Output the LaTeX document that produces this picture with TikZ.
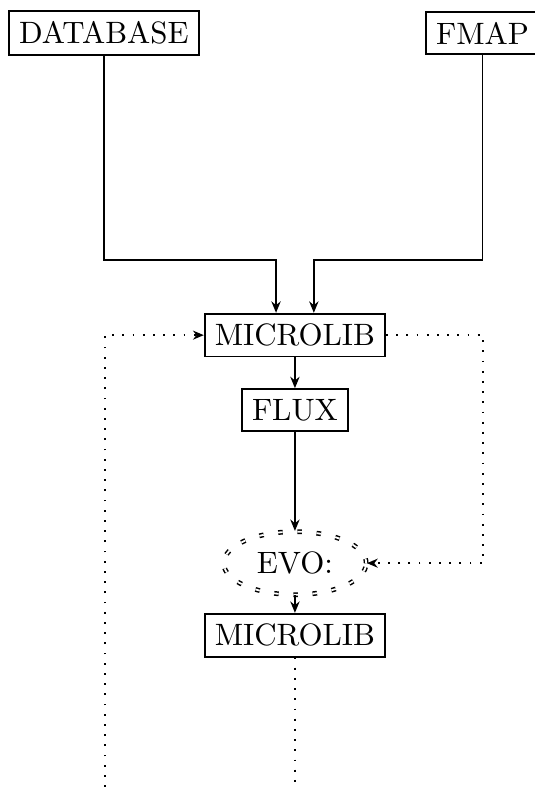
\documentclass[tikz,border=0pt]{standalone}
\usepackage{tikz}
\usetikzlibrary{
  shapes.geometric,
  arrows.meta,
  positioning,
  calc
}
\definecolor{linecolor}{RGB}{0, 0, 0}
\tikzset{
filebox/.style={
  draw=linecolor,
  line width=0.6pt,
  inner sep=3.4pt,
  font=\fontsize{10.3pt}{12pt}\selectfont
},
evonode/.style={
  ellipse,
  draw=linecolor,
  double,
  double distance=0.6pt,
  line width=0.5pt,
  dash pattern=on 1.5pt off 4.9pt,
  minimum width=47.5pt,
  minimum height=21pt,
  font=\fontsize{10.3pt}{12pt}\selectfont
},
arrow/.style={
  -{Stealth[length=3.8pt,width=3.1pt]},
  line width=0.6pt,
  draw=linecolor
},
loopline/.style={
  line width=0.75pt,
  draw=linecolor,
  dash pattern=on 0.6pt off 2.8pt
},
looparrow/.style={
  loopline,
  -{Stealth[length=3.6pt,width=3pt]}
}
}
\begin{document}
\begin{tikzpicture}
  \useasboundingbox (0,0) rectangle (178.3pt,-262.3pt);
  \node[filebox] (database) at (34.6pt,-11pt) {DATABASE};
  \node[filebox] (fmap) at (160.8pt,-11pt) {FMAP};
  \node[filebox] (microlib) at (98.3pt,-111.7pt) {MICROLIB};
  \node[filebox] (flux) at (98.3pt,-136.7pt) {FLUX};
  \node[evonode] (evo) at (98.3pt,-187.7pt) {EVO:};
  \node[filebox] (microlibout) at (98.3pt,-211.7pt) {MICROLIB};
  % inputs
  \coordinate (dbin) at ($(microlib.north)+(-6.3pt,0)$);
  \coordinate (fmapin) at ($(microlib.north)+(6.3pt,0)$);
  \coordinate (dbturn) at ($(database.south |- 0,-86.7pt)$);
  \coordinate (fmapturn) at ($(fmap.south |- 0,-86.7pt)$);
  \draw[arrow] (database.south) -- (dbturn) -| (dbin);
  \draw[arrow] (fmap.south) -- (fmapturn) -| (fmapin);
  % main chain
  \draw[arrow] (microlib) -- (flux);
  \draw[arrow] (flux) -- (evo);
  \draw[arrow] (evo) -- (microlibout);
  % loops
  \coordinate (leftend) at (35pt,-262.3pt);
  \coordinate (rightcol) at (161pt,-150pt);
  \coordinate (bottomend) at ($(microlibout.south |- 0,-262.3pt)$);
  \draw[looparrow] (leftend) |- (microlib.west);
  \draw[looparrow] (microlib.east) -| (rightcol |- evo.east) -- (evo.east);
  \draw[loopline] (microlibout.south) -- (bottomend);
\end{tikzpicture}
\end{document}
